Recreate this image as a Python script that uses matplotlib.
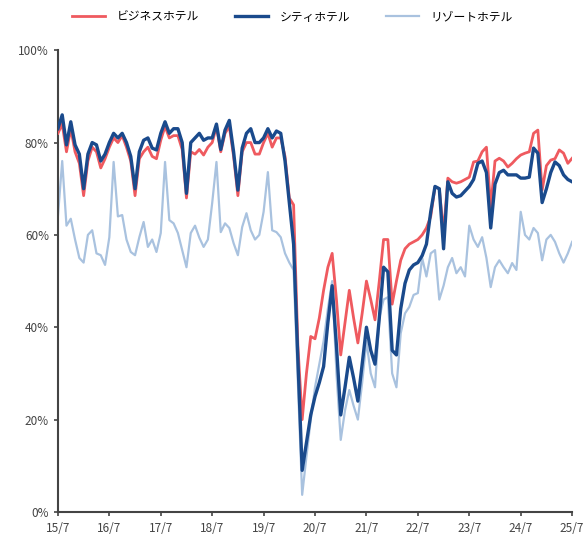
import matplotlib
matplotlib.use('Agg')
import matplotlib.pyplot as plt
import numpy as np

plt.rcParams['font.family'] = ['Noto Sans CJK JP', 'DejaVu Sans']

# monthly occupancy rate (%), 2015/7 .. 2025/7
business = [
    82, 84, 78, 83, 78, 75.5, 68.5, 76, 79, 78, 74.5, 76.5,
    79, 81, 80, 81.5, 79, 76, 68.5, 76.5, 78, 79, 77, 76.5,
    80.5, 83.5, 81, 81.5, 81.5, 78.5, 68, 78, 77.5, 78.5, 77.3, 79,
    80, 83.5, 78, 82, 83.5, 77, 68.5, 78, 80, 80, 77.5, 77.5,
    80, 82, 79, 81, 81, 77, 68, 66.5, 36, 20, 30, 38,
    37.5, 42, 48, 53, 56, 46, 34, 41, 48, 42, 36.6, 43,
    50, 46, 41.6, 50, 59, 59, 45, 50, 54.5, 57, 58, 58.5,
    59, 60, 61.5, 64, 70.4, 70, 60.5, 72.3, 71.5, 71.2, 71.5, 72,
    72.5, 75.8, 76, 78, 79, 66, 76, 76.6, 76, 74.7, 75.5, 76.5,
    77.3, 77.7, 78, 82, 82.7, 69.7, 75, 76.2, 76.5, 78.4, 77.7, 75.5,
    76.6,
]
city = [
    83, 86, 79.5, 84.5, 79.5, 77.5, 70, 77.5, 80, 79.5, 76, 77.5,
    80, 82, 81, 82, 80, 77, 70, 78, 80.5, 81, 78.8, 78.4,
    82, 84.5, 82, 83, 83, 80, 69, 80, 81, 82, 80.5, 81,
    81, 84, 78.5, 82.7, 84.8, 78, 69.7, 78.8, 82, 83, 80, 80,
    81, 83, 81, 82.5, 82, 76, 67, 58, 33, 9, 15, 21,
    25, 28, 31.5, 41, 49, 36, 21, 27, 33.5, 29, 24, 32,
    40, 35, 32, 42, 53, 52, 35, 34, 44, 49.5, 52.4, 53.5,
    54, 55.5, 58, 65, 70.5, 70, 57, 71.5, 69, 68.2, 68.5, 69.5,
    70.5, 72, 75.5, 76, 73.5, 61.5, 71, 73.5, 74, 73, 73, 73,
    72.3, 72.3, 72.5, 78.8, 77.7, 67, 70, 73.5, 75.8, 75, 73, 72,
    71.5,
]
resort = [
    64, 76, 62, 63.5, 59, 55, 54, 60, 61, 56, 55.6, 53.5,
    59.5, 75.8, 64, 64.3, 59, 56.3, 55.6, 59.5, 62.8, 57.4, 59, 56.3,
    60.4, 75.8, 63.2, 62.5, 60.4, 56.7, 53, 60.4, 62, 59.4, 57.4, 59,
    66.9, 75.8, 60.6, 62.5, 61.5, 58.2, 55.6, 61.7, 64.7, 61, 59, 60,
    65, 73.6, 61, 60.6, 59.5, 56, 54, 52.4, 28, 3.7, 12, 20,
    27, 32, 37, 44, 50, 30, 15.6, 22, 26.4, 23, 20, 28,
    37, 30, 27, 42, 46, 46.5, 30, 27, 38.7, 43, 44.4, 47,
    47.4, 55, 51, 56, 56.7, 46, 49, 53, 55, 51.7, 53, 51,
    62, 59, 57.4, 59.5, 55, 48.7, 53, 54.5, 53, 51.7, 53.9, 52.4,
    65, 60, 59, 61.5, 60.4, 54.5, 59, 60, 58.5, 56, 54, 56,
    58.5,
]
year_labels = ['15/7', '16/7', '17/7', '18/7', '19/7', '20/7',
               '21/7', '22/7', '23/7', '24/7', '25/7']

months = np.arange(len(city))

fig = plt.figure(figsize=(5.85, 5.4), dpi=100)
ax = fig.add_axes([0.099, 0.052, 0.879, 0.855])

ax.plot(months, resort, color='#a9c2df', lw=1.6, label='リゾートホテル', zorder=2)
ax.plot(months, business, color='#ef5a5f', lw=2.0, label='ビジネスホテル', zorder=3)
ax.plot(months, city, color='#1a4a8c', lw=2.4, label='シティホテル', zorder=4)

ax.set_xlim(0, 120)
ax.set_ylim(0, 100)
ax.set_xticks(np.arange(0, 121, 12))
ax.set_xticklabels(year_labels)
ax.set_yticks(np.arange(0, 101, 20))
ax.set_yticklabels([f'{v}%' for v in range(0, 101, 20)])

for s in ['top', 'right']:
    ax.spines[s].set_visible(False)
for s in ['left', 'bottom']:
    ax.spines[s].set_color('#444444')
    ax.spines[s].set_linewidth(1.5)
ax.tick_params(axis='both', colors='#444444', labelsize=8.5, length=3, width=1.2)
ax.tick_params(axis='x', pad=4)

h, l = ax.get_legend_handles_labels()
order = [1, 2, 0]
fig.legend([h[i] for i in order], [l[i] for i in order], loc='upper center',
           bbox_to_anchor=(0.5, 1.0), ncol=3, frameon=False, fontsize=8.5,
           handlelength=2.8, columnspacing=3.0, handletextpad=1.0)

fig.savefig('out.png', dpi=100)
